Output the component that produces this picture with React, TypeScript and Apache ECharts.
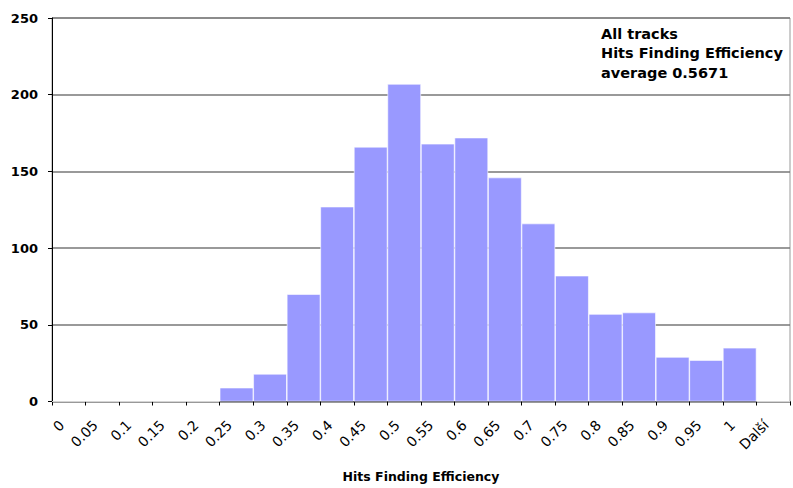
import React, { useEffect, useRef } from "react";
import * as echarts from "echarts";

const categories = ["0", "0.05", "0.1", "0.15", "0.2", "0.25", "0.3", "0.35", "0.4", "0.45", "0.5", "0.55", "0.6", "0.65", "0.7", "0.75", "0.8", "0.85", "0.9", "0.95", "1", "Další"];
const counts = [0, 0, 0, 0, 0, 9, 18, 70, 127, 166, 207, 168, 172, 146, 116, 82, 57, 58, 29, 27, 35, 0];
const yTicks = { min: 0, max: 250, interval: 50 };
const noteLines = ["All tracks", "Hits Finding Efficiency", "average 0.5671"];
const xTitle = "Hits Finding Efficiency";

const FONT = "'DejaVu Sans', 'Liberation Sans', Arial, sans-serif";

export default function App() {
  const ref = useRef<HTMLDivElement>(null);
  useEffect(() => {
    if (!ref.current) return;
    const chart = echarts.init(ref.current, null, { renderer: "svg" });
    chart.setOption({
      animation: false,
      backgroundColor: "#ffffff",
      grid: {
        left: 52,
        right: 3,
        top: 18,
        bottom: 86.5,
        containLabel: false,
        outerBoundsMode: "none",
        show: true,
        borderColor: "#999999",
        borderWidth: 1,
        backgroundColor: "transparent",
      },
      xAxis: {
        type: "category",
        data: categories,
        boundaryGap: true,
        name: xTitle,
        nameLocation: "middle",
        nameGap: 68,
        nameTextStyle: { fontFamily: FONT, fontWeight: "bold", fontSize: 12.5, color: "#000" },
        axisLine: { lineStyle: { color: "#000", width: 1 } },
        axisTick: { show: true, length: 4, interval: 0, lineStyle: { color: "#000" } },
        axisLabel: {
          interval: 0,
          rotate: 45,
          margin: 14,
          padding: [0, 10, 0, 0],
          fontFamily: FONT,
          fontSize: 14,
          color: "#000",
        },
        splitLine: { show: false },
      },
      yAxis: {
        type: "value",
        min: yTicks.min,
        max: yTicks.max,
        interval: yTicks.interval,
        axisLine: { show: true, lineStyle: { color: "#000", width: 1 } },
        axisTick: { show: true, length: 4, lineStyle: { color: "#000" } },
        axisLabel: { margin: 14, fontFamily: FONT, fontWeight: "bold", fontSize: 13, color: "#000" },
        splitLine: { show: true, lineStyle: { color: "#777777", width: 1.5 } },
      },
      series: [
        {
          type: "bar",
          data: counts,
          barCategoryGap: "0%",
          itemStyle: { color: "#9999FF", borderColor: "#ffffff", borderWidth: 0.6 },
        },
      ],
      graphic: noteLines.map((t, i) => ({
        type: "text",
        x: 601,
        y: 33.5 + i * 19.5,
        style: {
          text: t,
          font: `bold 14.5px ${FONT}`,
          fill: "#000",
          verticalAlign: "middle",
          align: "left",
        },
      })),
    });
    return () => chart.dispose();
  }, []);
  return <div ref={ref} style={{ position: "absolute", left: 0, top: 0, width: 793, height: 488 }} />;
}
